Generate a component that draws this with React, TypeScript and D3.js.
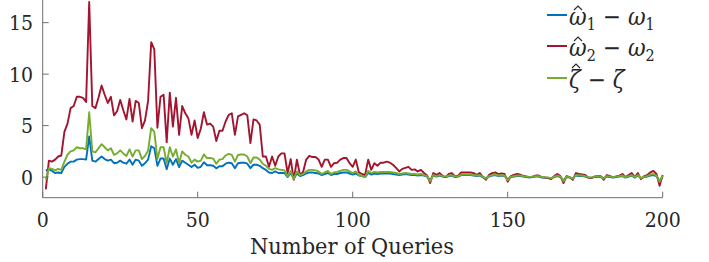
import React, { useEffect, useRef } from 'react'
import * as d3 from 'd3'

// error of each estimate against the number of queries (1..200)
const err1 = [
  0.64, 0.75, 0.6, 0.4, 0.45, 0.4, 1.0, 1.3, 1.5, 1.5,
  1.7, 1.75, 1.75, 1.7, 3.95, 1.6, 1.5, 1.75, 2.0, 1.75,
  1.6, 1.7, 1.35, 1.4, 1.6, 1.4, 1.3, 1.7, 1.2, 1.7,
  1.6, 1.1, 1.35, 1.7, 3.0, 2.8, 1.1, 1.8, 1.8, 0.77,
  1.8, 1.2, 1.75, 0.97, 1.6, 1.4, 1.2, 0.97, 1.2, 0.9,
  1.0, 1.45, 1.15, 1.15, 1.1, 0.85, 1.05, 1.05, 1.3, 1.4,
  1.35, 0.87, 1.35, 1.4, 1.4, 1.3, 0.87, 1.2, 1.2, 1.1,
  0.87, 0.7, 0.45, 0.4, 0.55, 0.4, 0.4, 0.4, 0.0, 0.4,
  -0.15, 0.35, 0.1, 0.2, 0.35, 0.45, 0.45, 0.4, 0.35, 0.2,
  0.3, 0.4, 0.2, 0.3, 0.3, 0.4, 0.45, 0.45, 0.35, 0.25,
  0.35, 0.15, 0.1, 0.0, 0.4, 0.25, 0.35, 0.3, 0.35, 0.35,
  0.35, 0.35, 0.3, 0.25, 0.2, 0.25, 0.3, 0.25, 0.2, 0.2,
  0.15, 0.2, 0.15, 0.05, -0.3, 0.15, 0.05, 0.15, 0.05, 0.0,
  0.1, 0.15, 0.0, 0.05, 0.2, 0.2, 0.2, 0.2, 0.15, 0.1,
  0.15, 0.0, -0.1, 0.05, 0.15, 0.2, 0.1, 0.15, 0.1, -0.2,
  0.0, 0.05, 0.1, 0.1, 0.05, 0.0, -0.05, 0.0, 0.05, 0.05,
  -0.05, -0.05, -0.05, -0.1, 0.0, 0.1, 0.0, -0.3, 0.0, -0.05,
  -0.1, 0.15, 0.1, 0.1, 0.05, -0.05, -0.05, 0.0, 0.0, 0.0,
  -0.1, 0.05, 0.0, -0.05, 0.0, 0.05, 0.1, -0.05, 0.05, 0.15,
  -0.05, 0.15, -0.1, 0.0, 0.05, 0.15, 0.2, 0.1, -0.35, 0.05,
]

const err2 = [
  -1.2, 1.6, 1.5, 1.7, 2.0, 2.1, 4.4, 5.2, 6.7, 6.9,
  7.8, 7.8, 7.7, 7.3, 17.0, 6.9, 6.7, 7.7, 8.9, 8.0,
  7.2, 7.8, 6.0, 6.4, 7.5, 6.5, 5.6, 7.6, 5.4, 7.4,
  7.2, 4.75, 5.5, 7.4, 13.1, 12.4, 4.8, 7.8, 8.0, 3.4,
  8.2, 4.9, 7.7, 4.1, 6.9, 6.2, 5.7, 4.1, 5.5, 3.8,
  4.7, 6.3, 5.1, 5.2, 4.9, 3.5, 4.5, 4.5, 5.4, 6.05,
  6.2, 4.1, 5.9, 6.05, 6.2, 6.0, 3.3, 5.6, 5.5, 5.1,
  2.0, 2.0, 1.0, 2.0, 1.1, 2.0, 2.3, 2.3, 0.4, 1.75,
  -0.26, 1.7, 0.2, 0.5, 1.7, 2.07, 1.95, 1.95, 1.7, 1.0,
  1.7, 1.7, 1.0, 1.35, 1.4, 1.7, 1.85, 1.85, 1.35, 1.0,
  1.7, 0.45, 0.3, 0.2, 1.7, 0.7, 1.35, 1.1, 1.4, 1.4,
  1.5, 1.4, 1.2, 0.9, 0.55, 0.8, 0.9, 1.0, 0.7, 0.75,
  0.55, 0.7, 0.4, 0.15, -0.58, 0.39, 0.22, 0.39, 0.13, 0.0,
  0.3, 0.39, 0.06, 0.13, 0.45, 0.45, 0.45, 0.45, 0.39, 0.22,
  0.39, 0.0, -0.26, 0.22, 0.39, 0.45, 0.3, 0.35, 0.3, -0.45,
  0.1, 0.22, 0.3, 0.25, 0.13, 0.06, 0.0, 0.05, 0.15, 0.15,
  0.0, -0.05, -0.1, -0.2, 0.1, 0.3, 0.1, -0.58, 0.1, 0.0,
  -0.26, 0.39, 0.3, 0.25, 0.2, -0.05, -0.1, 0.06, 0.1, 0.1,
  -0.26, 0.2, 0.1, 0.0, 0.06, 0.15, 0.3, 0.0, 0.2, 0.39,
  0.0, 0.39, -0.2, 0.1, 0.2, 0.45, 0.6, 0.3, -0.85, 0.2,
]

const errZeta = [
  -0.26, 0.87, 0.8, 0.65, 0.8, 0.7, 1.5, 2.17, 2.5, 2.6,
  2.9, 2.8, 2.8, 2.7, 6.3, 2.5, 2.4, 2.8, 3.2, 2.9,
  2.6, 2.8, 2.17, 2.3, 2.6, 2.3, 2.05, 2.7, 2.0, 2.6,
  2.6, 1.75, 2.05, 2.6, 4.75, 4.4, 1.75, 2.9, 2.9, 1.35,
  2.9, 2.0, 2.7, 1.35, 2.5, 2.17, 2.0, 1.4, 1.7, 1.5,
  1.6, 2.2, 1.85, 1.85, 1.8, 1.3, 1.7, 1.75, 2.1, 2.25,
  2.15, 1.5, 2.15, 2.2, 2.2, 2.0, 1.35, 1.9, 1.9, 1.7,
  1.3, 1.1, 0.8, 0.71, 0.87, 0.75, 0.7, 0.65, 0.06, 0.6,
  -0.2, 0.55, 0.2, 0.3, 0.55, 0.7, 0.7, 0.65, 0.55, 0.3,
  0.45, 0.6, 0.3, 0.45, 0.5, 0.6, 0.7, 0.7, 0.55, 0.39,
  0.55, 0.2, 0.13, 0.0, 0.6, 0.39, 0.5, 0.45, 0.5, 0.5,
  0.5, 0.5, 0.45, 0.4, 0.3, 0.35, 0.4, 0.35, 0.3, 0.3,
  0.25, 0.3, 0.2, 0.1, -0.4, 0.2, 0.1, 0.2, 0.1, 0.05,
  0.15, 0.2, 0.05, 0.1, 0.25, 0.25, 0.25, 0.25, 0.2, 0.15,
  0.2, 0.05, -0.15, 0.1, 0.2, 0.25, 0.15, 0.2, 0.15, -0.3,
  0.05, 0.1, 0.15, 0.15, 0.1, 0.05, 0.0, 0.05, 0.1, 0.1,
  0.0, 0.0, -0.05, -0.1, 0.05, 0.15, 0.05, -0.4, 0.05, 0.0,
  -0.15, 0.2, 0.15, 0.15, 0.1, 0.0, -0.05, 0.05, 0.05, 0.05,
  -0.15, 0.1, 0.05, 0.0, 0.05, 0.1, 0.15, 0.0, 0.1, 0.2,
  0.0, 0.2, -0.1, 0.05, 0.1, 0.25, 0.3, 0.15, -0.45, 0.15,
]

const xTicks = [0, 50, 100, 150, 200]
const yTicks = [0, 5, 10, 15]

const series = [
  { name: 'w1', values: err1, color: '#0072BD' },
  { name: 'w2', values: err2, color: '#A2142F' },
  { name: 'zeta', values: errZeta, color: '#77AC30' },
]

const W = 709
const H = 262
const FONT = "'DejaVu Serif Condensed', 'Liberation Serif', 'DejaVu Serif', serif"

const App = () => {
  const refSvg = useRef<SVGSVGElement>(null)

  useEffect(() => {
    const svg = d3.select(refSvg.current)
    svg.selectAll('*').remove()

    const x = d3.scaleLinear().domain([0, 200]).range([42.7, 662.7])
    const y = d3.scaleLinear().domain([-2, 17.2]).range([197.7, 0])

    const line = d3
      .line<number>()
      .x((d, i) => x(i + 1))
      .y((d) => y(d))

    // lines
    const g = svg.append('g')
    series.forEach((s) => {
      g.append('path')
        .datum(s.values)
        .attr('d', line)
        .attr('fill', 'none')
        .attr('stroke', s.color)
        .attr('stroke-width', 1.9)
        .attr('stroke-linejoin', 'round')
    })

    // axes (ticks inside, MATLAB style, no box)
    const axisColor = '#6e6e6e'
    const ax = svg.append('g')
      .style('font-family', FONT)
      .style('font-stretch', 'condensed')
      .attr('font-size', 21)
      .attr('fill', '#262626')
    ax.append('line')
      .attr('x1', x(0)).attr('x2', x(200))
      .attr('y1', y(-2)).attr('y2', y(-2))
      .attr('stroke', axisColor).attr('stroke-width', 1)
    ax.append('line')
      .attr('x1', x(0)).attr('x2', x(0))
      .attr('y1', y(-2)).attr('y2', 0)
      .attr('stroke', axisColor).attr('stroke-width', 1)

    ax.selectAll('.xt')
      .data(xTicks)
      .enter()
      .append('line')
      .attr('x1', (d) => x(d)).attr('x2', (d) => x(d))
      .attr('y1', y(-2)).attr('y2', y(-2) - 6)
      .attr('stroke', axisColor)
    ax.selectAll('.xl')
      .data(xTicks)
      .enter()
      .append('text')
      .attr('x', (d) => x(d))
      .attr('y', 227)
      .attr('text-anchor', 'middle')
      .text((d) => d)

    ax.selectAll('.yt')
      .data(yTicks)
      .enter()
      .append('line')
      .attr('x1', x(0)).attr('x2', x(0) + 6)
      .attr('y1', (d) => y(d)).attr('y2', (d) => y(d))
      .attr('stroke', axisColor)
    ax.selectAll('.yl')
      .data(yTicks)
      .enter()
      .append('text')
      .attr('x', 33)
      .attr('y', (d) => y(d) + 7.5)
      .attr('text-anchor', 'end')
      .text((d) => d)

    ax.append('text')
      .attr('x', 250)
      .attr('y', 254)
      .attr('font-size', 22)
      .attr('textLength', 204)
      .attr('lengthAdjust', 'spacingAndGlyphs')
      .text('Number of Queries')

    // legend
    const leg = svg.append('g')
      .style('font-family', FONT)
      .style('font-stretch', 'condensed')
      .attr('font-size', 24)
      .attr('fill', '#262626')
    const rows = [
      { color: series[0].color, sym: 'ω', sub: '1', y: 15, top: 14 },
      { color: series[1].color, sym: 'ω', sub: '2', y: 46, top: 14 },
      { color: series[2].color, sym: 'ζ', sub: '', y: 78, top: 19 },
    ]
    rows.forEach((r) => {
      const base = r.y + 10
      leg.append('line')
        .attr('x1', 547).attr('x2', 567)
        .attr('y1', r.y).attr('y2', r.y)
        .attr('stroke', r.color).attr('stroke-width', 2)
      // hat over the first symbol
      const hx = 569 + (r.sub ? 9 : 7)
      const hy = base - r.top - 5
      leg.append('path')
        .attr('d', `M${hx - 4},${hy + 4}L${hx},${hy}L${hx + 4},${hy + 4}`)
        .attr('fill', 'none')
        .attr('stroke', '#262626')
        .attr('stroke-width', 1.1)
      const t = leg.append('text').attr('x', 569).attr('y', base)
      t.append('tspan').attr('font-style', 'italic').text(r.sym)
      if (r.sub) {
        t.append('tspan').attr('font-size', 16).attr('dy', 5).text(r.sub)
        t.append('tspan').attr('dy', -5).attr('dx', 7).text('\u2212')
      } else {
        t.append('tspan').attr('dx', 7).text('\u2212')
      }
      t.append('tspan').attr('dx', 7).attr('font-style', 'italic').text(r.sym)
      if (r.sub) t.append('tspan').attr('font-size', 16).attr('dy', 5).text(r.sub)
    })
  })

  return (
    <div style={{ position: 'absolute', left: 0, top: 0 }}>
      <svg ref={refSvg} width={W} height={H} style={{ display: 'block', background: '#fff' }} />
    </div>
  )
}

export default App
